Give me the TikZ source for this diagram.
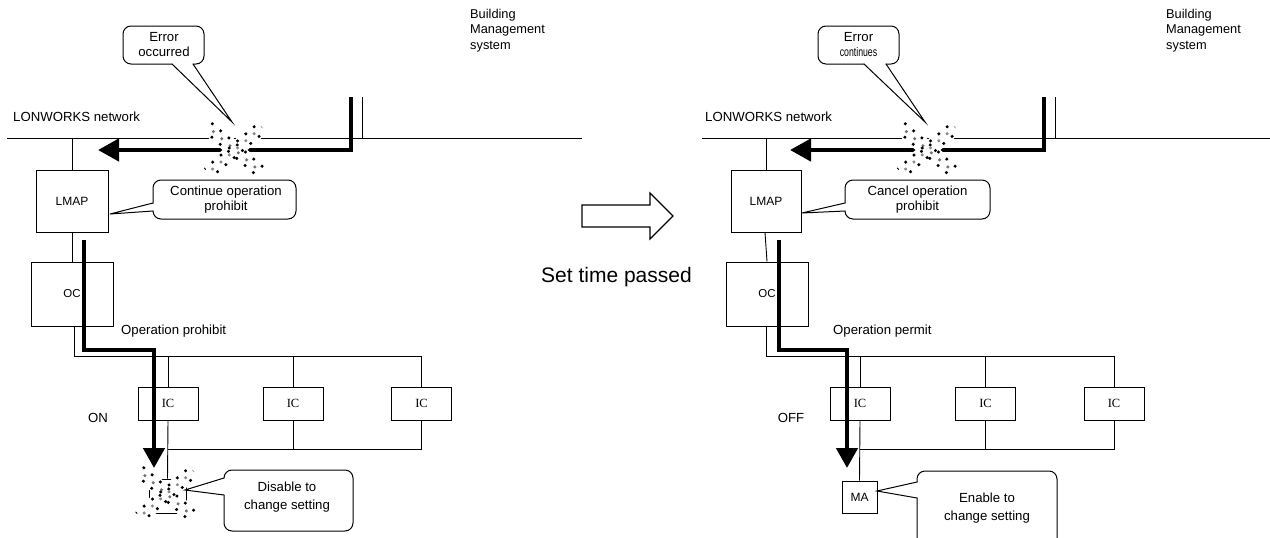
\documentclass[tikz,border=0pt]{standalone}
\usepackage{fontspec}
\setmainfont{Liberation Sans}
\newfontfamily\icfont{Liberation Serif}
\usetikzlibrary{arrows.meta,calc}
\newcommand{\stipx}[1]{%
  \begin{scope}[shift={#1}]
    \draw[white, line width=16pt] (-27,-23) -- (27,23) (-27,23) -- (27,-23);
    \foreach \ox/\oy/\ph/\cl in {3.4/-4/0/black, 0/0/5/black!55, -3.4/4/2.5/black} {
      \draw[\cl, line width=2.4pt, dash pattern=on 2.4pt off 8.5pt, dash phase=\ph pt, shift={(\ox,\oy)}]
        (-27,-23) -- (27,23);
    }
    \foreach \ox/\oy/\ph/\cl in {-3.4/-4/1.5/black, 0/0/6/black!45, 3.4/4/4/black} {
      \draw[\cl, line width=2.4pt, dash pattern=on 2.4pt off 8.5pt, dash phase=\ph pt, shift={(\ox,\oy)}]
        (-27,23) -- (27,-23);
    }
  \end{scope}}
\begin{document}
\begin{tikzpicture}[x=1pt,y=-1pt, line join=miter,
  thinline/.style={line width=0.9pt},
  box/.style={draw, line width=1pt, inner sep=0pt, fill=white, font=\fontsize{12}{14}\selectfont},
  icbox/.style={draw, line width=1pt, inner sep=0pt, fill=white, minimum width=60pt, minimum height=33pt, font=\icfont\fontsize{12.5}{14}\selectfont},
  flow/.style={line width=4.5pt, -{Triangle[length=21pt,width=22pt]}},
  lbl/.style={font=\fontsize{13.2}{15.5}\selectfont, inner sep=0pt},
  call/.style={line width=1pt, rounded corners=8pt, line cap=round},
  ptr/.style={line width=1pt, line cap=round},
]
\useasboundingbox (0,0) rectangle (1270,538);

% ================= LEFT PANEL =================
\coordinate (netL1) at (7,138);
\coordinate (netL2) at (582,138);
\draw[thinline] (netL1) -- (netL2);
\node[lbl, anchor=west] (lonL) at (13,117) {LONWORKS network};
\node[lbl, anchor=north west, align=left, font=\fontsize{12.8}{15.5}\selectfont] (bmsL) at (470,9) {Building\\Management\\system};

\coordinate (bmsThickL) at (351,97);
\coordinate (bmsThinL) at (362,97);
\coordinate (arrTipL) at (98,150);
\draw[thinline] (bmsThinL) -- (bmsThinL |- netL1);
\draw[flow] (bmsThickL) |- (arrTipL);

\node[box, minimum width=72pt, minimum height=62pt] (lmapL) at (72,201) {LMAP};
\node[box, minimum width=82pt, minimum height=64pt, font=\fontsize{11.5}{13}\selectfont] (ocL) at (72,294) {OC};
\draw[thinline] (lmapL.north |- netL1) -- (lmapL.north);
\draw[thinline] (lmapL.south) -- (ocL.north);

\node[icbox] (icL1) at (168,403.5) {IC};
\node[icbox] (icL2) at (293,403.5) {IC};
\node[icbox] (icL3) at (421.5,403.5) {IC};
\node[box, minimum width=37pt, minimum height=34pt] (maL) at (167.5,496) {};
\coordinate (busL) at (421.5,356);
\coordinate (lbusL) at (421.5,449);
\draw[thinline] ([xshift=2pt]ocL.south) |- (busL) -- (icL3.north);
\draw[thinline] (icL1.north |- busL) -- (icL1.north);
\draw[thinline] (icL2.north |- busL) -- (icL2.north);
\draw[thinline] (icL1.south) -- (maL.north);
\draw[thinline] (icL1.south |- lbusL) -- (lbusL) -- (icL3.south);
\draw[thinline] (icL2.south) -- (icL2.south |- lbusL);

\coordinate (tfL0) at (84,240);
\coordinate (tfL1) at (154,350);
\coordinate (tfL2) at (154,468);
\draw[flow, -{Triangle[length=20pt,width=21pt]}] (tfL0) |- (tfL1) -- (tfL2);

\node[lbl, anchor=west] (opL) at (121,331) {Operation prohibit};
\node[lbl] (onL) at (98,418) {ON};

\stipx{(235,150)}
\stipx{(166.5,494)}

% callouts left
\draw[call] (193,64) -- (204,64) -- (204,26) -- (123,26) -- (123,64) -- (172,64);
\draw[ptr] (172,64) -- (232,122) -- (193,64);
\node[lbl, align=center] (errL) at (164,44.5) {Error\\occurred};

\draw[call] (153,203) -- (153,180) -- (296,180) -- (296,219) -- (153,219) -- (153,211);
\draw[ptr] (153,203) -- (110,214) -- (153,211);
\node[lbl, align=center] (contL) at (226,199.5) {Continue operation\\prohibit};

\draw[call] (224,495) -- (224,531) -- (353,531) -- (353,470) -- (224,470) -- (224,478);
\draw[ptr] (224,478) -- (185,490) -- (224,495);
\node[lbl, align=center, font=\fontsize{13.2}{18}\selectfont] (disL) at (287,497) {Disable to\\change setting};

% ================= MIDDLE =================
\draw[line width=1.2pt, fill=white] (582,205) -- (650,205) -- (650,193) -- (673,216) -- (650,239) -- (650,227) -- (582,227) -- cycle;
\node[inner sep=0pt, anchor=west, font=\fontsize{21}{24}\selectfont] (setT) at (541,277) {Set time passed};

% ================= RIGHT PANEL =================
\coordinate (netR1) at (702,138);
\coordinate (netR2) at (1270,138);
\draw[thinline] (netR1) -- (netR2);
\node[lbl, anchor=west] (lonR) at (705,117) {LONWORKS network};
\node[lbl, anchor=north west, align=left, font=\fontsize{12.8}{15.5}\selectfont] (bmsR) at (1166,9) {Building\\Management\\system};

\coordinate (bmsThickR) at (1044,97);
\coordinate (bmsThinR) at (1055,97);
\coordinate (arrTipR) at (790,150);
\draw[thinline] (bmsThinR) -- (bmsThinR |- netR1);
\draw[flow] (bmsThickR) |- (arrTipR);

\node[box, minimum width=70pt, minimum height=62pt] (lmapR) at (766,201) {LMAP};
\node[box, minimum width=82pt, minimum height=64pt, font=\fontsize{11.5}{13}\selectfont] (ocR) at (767,294) {OC};
\draw[thinline] (lmapR.north |- netR1) -- (lmapR.north);
\draw[thinline] ([xshift=-1pt]lmapR.south) -- (ocR.north);

\node[icbox] (icR1) at (860,403.5) {IC};
\node[icbox] (icR2) at (985.5,403.5) {IC};
\node[icbox] (icR3) at (1114,403.5) {IC};
\node[box, minimum width=35pt, minimum height=32pt, font=\fontsize{12}{14}\selectfont] (maR) at (859.5,497) {MA};
\coordinate (busR) at (1114,356);
\coordinate (lbusR) at (1114,449);
\draw[thinline] ([xshift=-1pt]ocR.south) |- (busR) -- (icR3.north);
\draw[thinline] (icR1.north |- busR) -- (icR1.north);
\draw[thinline] (icR2.north |- busR) -- (icR2.north);
\draw[thinline] (icR1.south) -- (maR.north);
\draw[thinline] (icR1.south |- lbusR) -- (lbusR) -- (icR3.south);
\draw[thinline] (icR2.south) -- (icR2.south |- lbusR);

\coordinate (tfR0) at (779,240);
\coordinate (tfR1) at (847,350);
\coordinate (tfR2) at (847,468);
\draw[flow, -{Triangle[length=20pt,width=21pt]}] (tfR0) |- (tfR1) -- (tfR2);

\node[lbl, anchor=west] (opR) at (833,331) {Operation permit};
\node[lbl] (offR) at (791,418) {OFF};

\stipx{(928,150)}

% callouts right
\draw[call] (886,64) -- (899,64) -- (899,26) -- (818,26) -- (818,64) -- (864,64);
\draw[ptr] (864,64) -- (925,122) -- (886,64);
\node[lbl, align=center] (errR) at (858.5,44.5) {Error\\\scalebox{0.7}[1]{\fontsize{12.5}{13}\selectfont continues}};

\draw[call] (845,203) -- (845,180) -- (990,180) -- (990,219) -- (845,219) -- (845,211);
\draw[ptr] (845,203) -- (802,213) -- (845,211);
\node[lbl, align=center] (canR) at (917.5,199.5) {Cancel operation\\prohibit};

\draw[call] (917,498) -- (917,550) -- (1057,550) -- (1057,471) -- (917,471) -- (917,482);
\draw[ptr] (917,482) -- (877,491) -- (917,498);
\node[lbl, align=center, font=\fontsize{13.2}{18}\selectfont] (enR) at (987,508) {Enable to\\change setting};
\end{tikzpicture}
\end{document}
